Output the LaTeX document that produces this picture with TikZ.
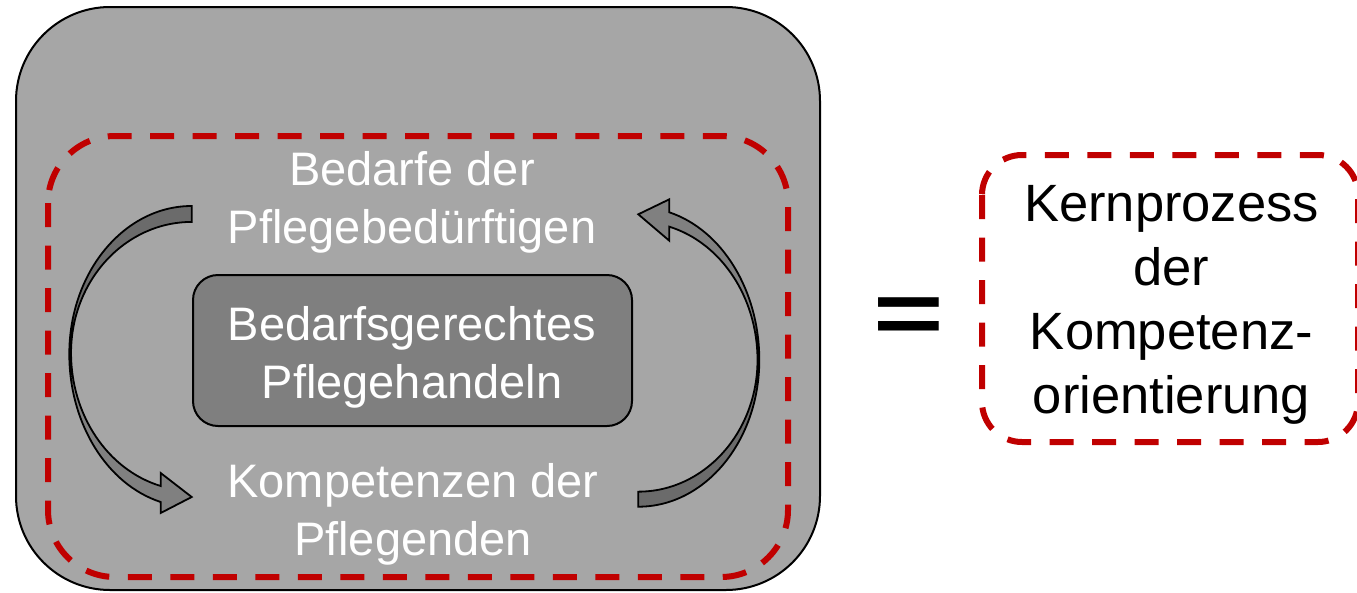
\documentclass[tikz,border=0pt]{standalone}
\usepackage{fontspec}
\setmainfont{Liberation Sans}
\definecolor{outergray}{HTML}{A6A6A6}
\definecolor{innergray}{HTML}{7F7F7F}
\definecolor{arrowlight}{HTML}{808080}
\definecolor{arrowdark}{HTML}{6B6B6B}
\definecolor{redline}{HTML}{C00000}
\begin{document}
\begin{tikzpicture}[x=1pt,y=-1pt,
  lefttxt/.style={text=white, font=\fontsize{47}{57.5}\selectfont, align=center, inner sep=0pt, anchor=base},
  righttxt/.style={text=black, font=\fontsize{52.5}{64}\selectfont, align=center, inner sep=0pt, anchor=base},
  redbox/.style={draw=redline, line width=6pt, dash pattern=on 24pt off 18.5pt},
  arrowline/.style={draw=black, line width=1.8pt, line join=miter},
  boxline/.style={draw=black, line width=2pt}]
\useasboundingbox (0,0) rectangle (1357,592);

% outer grey panel
\path[boxline, fill=outergray, rounded corners=94pt] (16,7) rectangle (820,590);
% red dashed frame
\path[redbox, rounded corners=67pt] (48,136) rectangle (788,577);
% inner box
\path[boxline, fill=innergray, rounded corners=25pt] (193,275) rectangle (632,426);

% left curved arrow
\fill[arrowlight] (191.7,206)
  arc[start angle=90, end angle=180, x radius=122.4pt, y radius=148pt]
  arc[start angle=180, end angle=255.3, x radius=122.4pt, y radius=153pt]
  -- (160.7,513) -- (191.7,497) -- (160.7,473) -- (160.7,486)
  arc[start angle=255.1, end angle=180, x radius=120.7pt, y radius=137.7pt]
  arc[start angle=180, end angle=90, x radius=120.7pt, y radius=131pt] -- cycle;
\fill[arrowdark] (191.7,206)
  arc[start angle=90, end angle=180, x radius=122.4pt, y radius=148pt]
  -- (71,353)
  arc[start angle=180, end angle=90, x radius=120.7pt, y radius=131pt] -- cycle;
\path[arrowline] (191.7,206)
  arc[start angle=90, end angle=180, x radius=122.4pt, y radius=148pt]
  arc[start angle=180, end angle=255.3, x radius=122.4pt, y radius=153pt]
  -- (160.7,513) -- (191.7,497) -- (160.7,473) -- (160.7,486)
  arc[start angle=255.1, end angle=180, x radius=120.7pt, y radius=137.7pt]
  arc[start angle=180, end angle=90, x radius=120.7pt, y radius=131pt] -- cycle;

% right curved arrow
\fill[arrowlight] (638.3,506.7)
  arc[start angle=270, end angle=360, x radius=121pt, y radius=146.7pt]
  arc[start angle=0, end angle=75.16, x radius=121pt, y radius=152.8pt]
  -- (669.3,199.3) -- (638.3,214.3) -- (669.3,240.7) -- (669.3,226.7)
  arc[start angle=74.93, end angle=0, x radius=119.2pt, y radius=138pt]
  arc[start angle=360, end angle=270, x radius=119.2pt, y radius=131.7pt] -- cycle;
\fill[arrowdark] (638.3,506.7)
  arc[start angle=270, end angle=360, x radius=121pt, y radius=146.7pt]
  -- (757.5,360)
  arc[start angle=360, end angle=270, x radius=119.2pt, y radius=131.7pt] -- cycle;
\path[arrowline] (638.3,506.7)
  arc[start angle=270, end angle=360, x radius=121pt, y radius=146.7pt]
  arc[start angle=0, end angle=75.16, x radius=121pt, y radius=152.8pt]
  -- (669.3,199.3) -- (638.3,214.3) -- (669.3,240.7) -- (669.3,226.7)
  arc[start angle=74.93, end angle=0, x radius=119.2pt, y radius=138pt]
  arc[start angle=360, end angle=270, x radius=119.2pt, y radius=131.7pt] -- cycle;

% texts (base anchor = baseline of last line)
\node[lefttxt] (needs) at (412,243) {Bedarfe der\\Pflegebedürftigen};
\node[lefttxt] (action) at (412,398) {Bedarfsgerechtes\\Pflegehandeln};
\node[lefttxt] (skills) at (413,555) {Kompetenzen der\\Pflegenden};

% equals sign
\node[inner sep=0pt, font=\bfseries\fontsize{110}{110}\selectfont, xscale=1.1, yscale=0.8] (eq) at (908.5,321) {=};

% right dashed box and text
\path[redbox, rounded corners=40pt] (982,155) rectangle (1358,442);
\node[righttxt] (core) at (1171.5,413) {Kernprozess\\der\\Kompetenz-\\orientierung};
\end{tikzpicture}
\end{document}
